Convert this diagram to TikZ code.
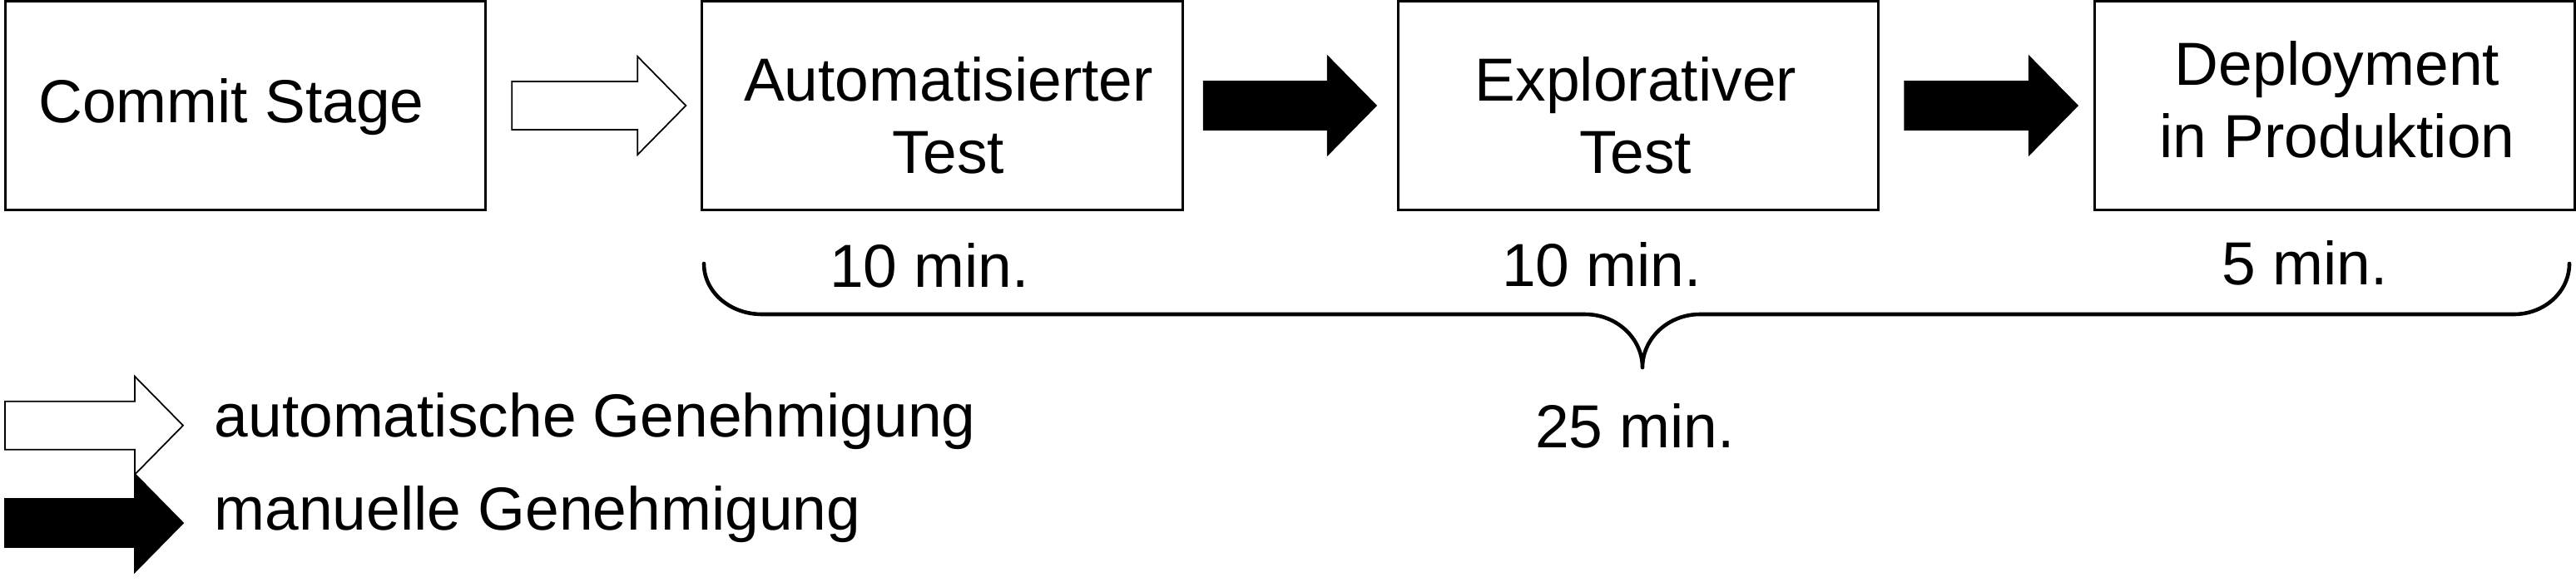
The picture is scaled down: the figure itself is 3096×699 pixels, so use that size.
\documentclass[tikz,border=0pt]{standalone}
\usepackage{fontspec}
\setmainfont{Liberation Sans}
\usetikzlibrary{calc}
\begin{document}
\begin{tikzpicture}[x=0.01cm,y=-0.01cm,
  stagebox/.style={draw, line width=0.85pt, minimum width=5.77cm, minimum height=2.5cm, inner sep=0pt},
  txt/.style={inner sep=0pt, font=\fontsize{20.8pt}{24.5pt}\selectfont, align=center},
  fatarrow/.style={line width=0.5pt, line join=miter, to path={
    ($(\tikztostart)+(0,-29)$) -- ($(\tikztotarget)+(-58,-29)$) -- ($(\tikztotarget)+(-58,-59)$) -- (\tikztotarget) -- ($(\tikztotarget)+(-58,59)$) -- ($(\tikztotarget)+(-58,29)$) -- ($(\tikztostart)+(0,29)$) -- cycle}},
  autoarrow/.style={fatarrow, draw=black, fill=white},
  manarrow/.style={fatarrow, draw=black, fill=black},
  bracepath/.style={line width=1.3pt, line cap=round, line join=round}
]
\useasboundingbox (0,0) rectangle (3096,699);

% stage boxes
\node[stagebox] (b1) at (295,127) {};
\node[stagebox] (b2) at (1132.5,127) {};
\node[stagebox] (b3) at (1969,127) {};
\node[stagebox] (b4) at (2806,127) {};

% box texts (base anchor = baseline of the last line)
\node[txt, anchor=base] (t1) at (278,147) {Commit Stage};
\node[txt, anchor=base] (t2) at (1140,208) {Automatisierter\\Test};
\node[txt, anchor=base] (t3) at (1966,208) {Explorativer\\Test};
\node[txt, anchor=base] (t4) at (2809,189) {Deployment\\in Produktion};

% connectors
\coordinate (a1s) at ($(b1.east)+(30,0)$);
\coordinate (a1e) at ($(b2.west)+(-18,0)$);
\coordinate (a2s) at ($(b2.east)+(24,0)$);
\coordinate (a2e) at ($(b3.west)+(-25,0)$);
\coordinate (a3s) at ($(b3.east)+(30,0)$);
\coordinate (a3e) at ($(b4.west)+(-19,0)$);
\draw[autoarrow] (a1s) to (a1e);
\draw[manarrow] (a2s) to (a2e);
\draw[manarrow] (a3s) to (a3e);

% durations
\node[txt, anchor=base] (m1) at (1117,345) {10 min.};
\node[txt, anchor=base] (m2) at (1925,344) {10 min.};
\node[txt, anchor=base] (m3) at (2770,342) {5 min.};

% brace
\coordinate (brL) at (846,317);
\coordinate (brM) at (1974,442);
\coordinate (brR) at (3088,317);
\draw[bracepath] (brL) .. controls (846,351) and (877,378) .. (916,378) -- (1905,378)
  .. controls (1943,378) and (1974,407) .. (brM)
  .. controls (1974,407) and (2005,378) .. (2043,378) -- (3021,378)
  .. controls (3058,378) and (3088,351) .. (brR);
\node[txt, anchor=base] (m4) at (1965,538) {25 min.};

% legend
\coordinate (l1s) at (6,511.7);
\coordinate (l1e) at (220,511.7);
\coordinate (l2s) at (6,629);
\coordinate (l2e) at (220,629);
\draw[autoarrow] (l1s) to (l1e);
\draw[manarrow] (l2s) to (l2e);
\node[txt, anchor=base west] (lg1) at (257,525) {automatische Genehmigung};
\node[txt, anchor=base west] (lg2) at (257,637) {manuelle Genehmigung};
\end{tikzpicture}
\end{document}
